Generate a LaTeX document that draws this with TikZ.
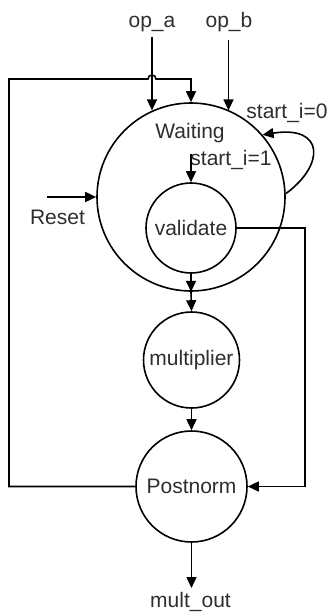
\documentclass[tikz,border=0pt]{standalone}
\usepackage{fontspec}
\setmainfont{Liberation Sans}
\usetikzlibrary{arrows.meta}
\definecolor{txt}{HTML}{2E2E2E}
\begin{document}
\begin{tikzpicture}[x=1pt,y=1pt,
  every node/.style={font=\fontsize{21}{24}\selectfont,text=txt},
  state/.style={circle,draw,line width=1.6pt,inner sep=0pt},
  lbl/.style={anchor=base,inner sep=0pt},
  wire/.style={line width=1.6pt},
  flow/.style={wire,-{Triangle[length=11pt,width=10pt]}}]
\useasboundingbox (0,0) rectangle (329,-615);

% states
\node[state,minimum size=188pt] (W) at (191,-197) {};
\node[state,minimum size=90pt]  (V) at (191,-228) {validate};
\node[state,minimum size=96pt]  (M) at (191.5,-360) {multiplier};
\node[state,minimum size=111pt] (P) at (191.5,-486.5) {Postnorm};

% labels
\node[lbl] (wlbl) at (190,-139) {Waiting};
\node[lbl] (opa)  at (152,-28) {op\_a};
\node[lbl] (opb)  at (229,-28) {op\_b};
\node[lbl] (s0)   at (287,-118) {start\_i=0};
\node[lbl] (s1)   at (231,-165) {start\_i=1};
\node[lbl] (rst)  at (57.5,-224) {Reset};
\node[lbl] (out)  at (190.5,-607) {mult\_out};

% free ends and corners
\coordinate (opaT) at (152,-37);
\coordinate (opbT) at (228.5,-40);
\coordinate (rstT) at (47,-197);
\coordinate (s1T)  at (191,-154);
\coordinate (fbL)  at (9,-79);
\coordinate (fbR)  at (191,-79);
\coordinate (vR)   at (305,-228);
\coordinate (outB) at (191.5,-588);

% inputs
\draw[flow] (opaT) -- (opaT |- W.114.5);
\draw[flow] (opbT) -- (opbT |- W.66.5);
\draw[flow] (rstT) -- (W.west);
\draw[flow] (s1T) -- (V.north);

% self loop on Waiting
\draw[flow] (W.2) .. controls (325,-165) and (325,-125) .. (W.41);

% feedback from Postnorm to Waiting, hopping over op_a
\draw[flow] (P.west) -| (fbL) -- (148,-79) arc[start angle=180,end angle=0,radius=4] -- (fbR) -- (W.north);

% main chain
\draw[flow] (V.south) -- (W.south);
\draw[flow] (W.south) -- (M.north);
\draw[flow] (M.south) -- (P.north);
\draw[flow] (V.east) -- (vR) |- (P.east);
\draw[flow] (P.south) -- (outB);
\end{tikzpicture}
\end{document}
